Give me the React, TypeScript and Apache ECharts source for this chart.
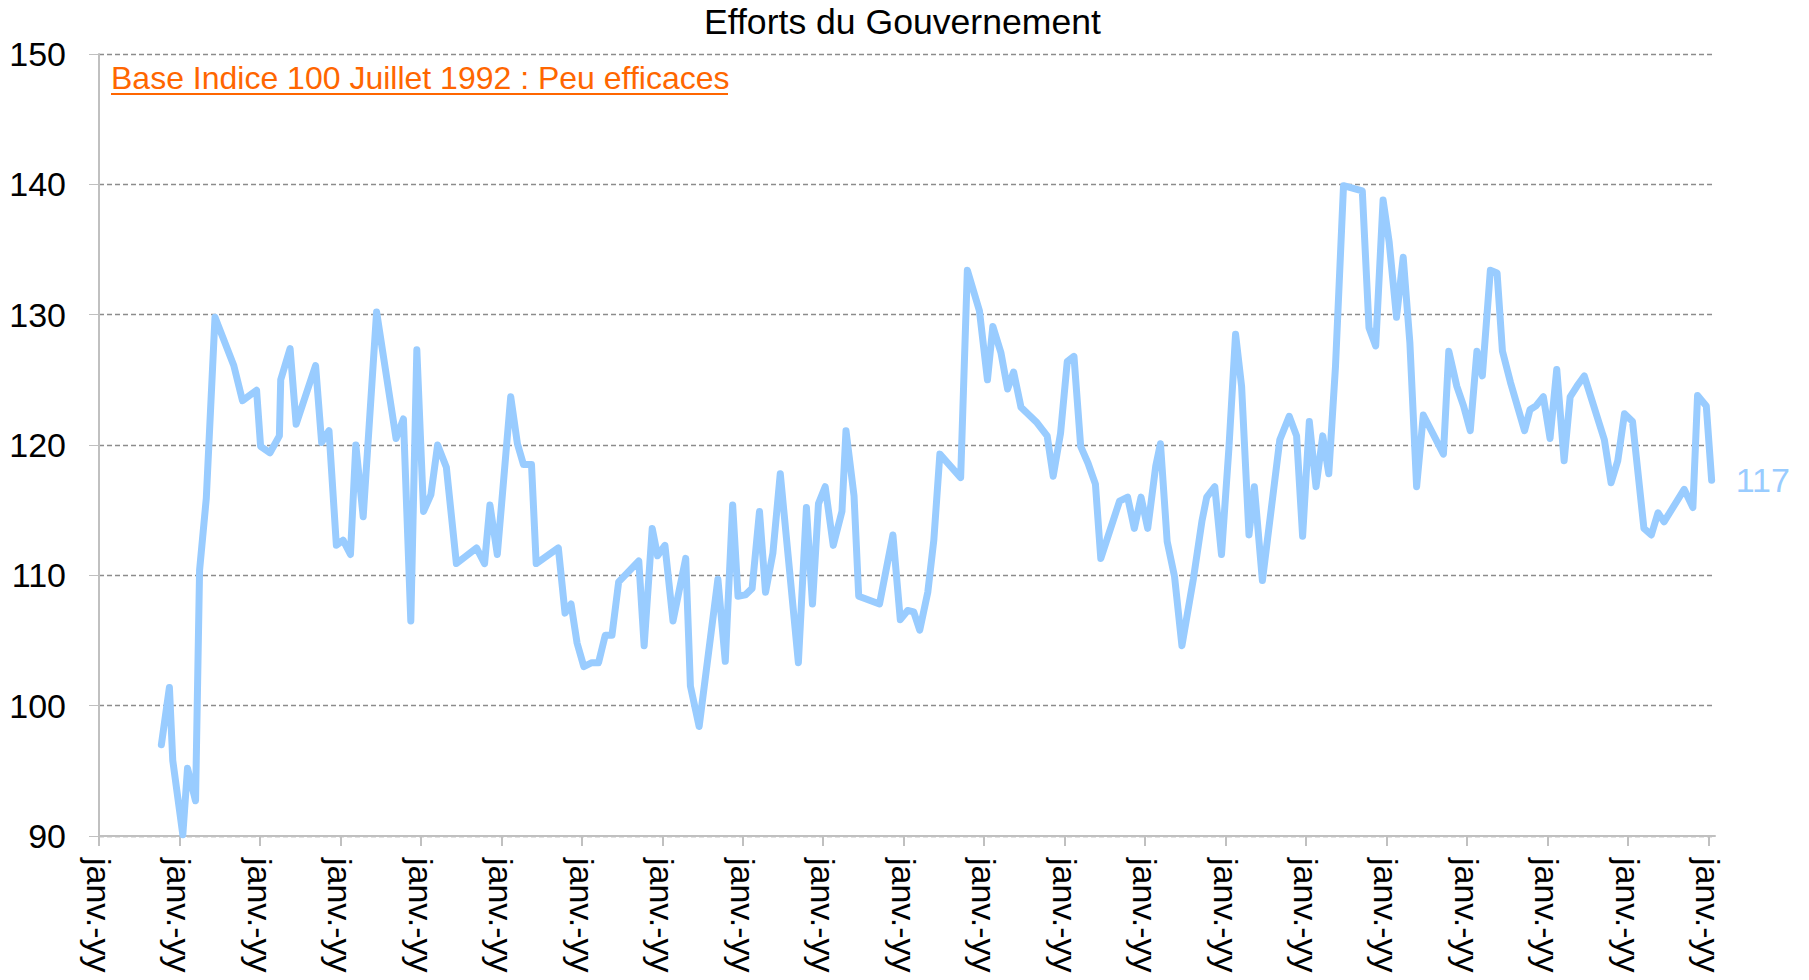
import React, { useEffect, useRef } from "react";
import * as echarts from "echarts";

const titleText = "Efforts du Gouvernement";
const noteText = "Base Indice 100 Juillet 1992 : Peu efficaces";
const xTickLabel = "janv.-yy";
const yTicks = [90, 100, 110, 120, 130, 140, 150];

// months since janv. 1992
const monthIdx = [
  9.3, 10.5, 11.0, 12.5, 13.2, 14.4, 15.0, 16.0, 17.3, 20.1,
  21.4, 23.5, 24.1, 25.5, 26.9, 27.1, 28.5, 29.4, 32.3, 33.2,
  34.3, 35.4, 36.4, 37.5, 38.3, 39.4, 41.4, 44.3, 45.4, 46.5,
  47.4, 48.4, 49.5, 50.5, 51.8, 53.3, 56.3, 57.5, 58.3, 59.4,
  61.4, 62.4, 63.3, 64.5, 65.2, 68.5, 69.5, 70.4, 71.3, 72.3,
  73.5, 74.5, 75.5, 76.5, 77.5, 80.5, 81.3, 82.5, 83.3, 84.4,
  85.6, 87.5, 88.2, 89.5, 92.3, 93.4, 94.5, 95.3, 96.4, 97.4,
  98.5, 99.4, 100.5, 101.6, 104.3, 105.5, 106.4, 107.3, 108.3, 109.5,
  110.8, 111.4, 112.6, 113.3, 116.4, 118.4, 119.5, 120.6, 121.5, 122.4,
  123.6, 124.5, 125.4, 128.5, 129.5, 131.3, 132.5, 133.3, 134.5, 135.5,
  136.4, 137.5, 139.9, 141.4, 142.3, 143.4, 144.4, 145.4, 146.4, 147.5,
  148.6, 149.4, 152.2, 153.4, 154.4, 155.4, 156.4, 157.6, 158.3, 159.3,
  160.4, 161.5, 163.2, 164.5, 165.2, 166.4, 167.4, 168.5, 169.5, 170.4,
  171.5, 172.3, 173.5, 176.1, 177.5, 178.6, 179.5, 180.5, 181.5, 182.5,
  183.4, 184.4, 185.6, 188.4, 189.4, 190.4, 191.5, 192.4, 193.5, 194.5,
  195.5, 196.5, 197.5, 200.5, 201.3, 202.5, 203.5, 204.5, 205.5, 206.3,
  207.5, 208.5, 209.3, 210.5, 212.6, 213.4, 214.3, 215.4, 216.4, 217.4,
  218.5, 219.4, 220.4, 221.5, 224.5, 225.5, 226.5, 227.5, 228.7, 230.4,
  231.5, 232.5, 233.4, 236.4, 237.7, 238.4, 239.7, 240.5,
];

const values = [
  97.0, 101.4, 95.8, 90.1, 95.2, 92.7, 110.4, 115.9, 129.8, 126.1,
  123.4, 124.2, 119.9, 119.4, 120.7, 125.0, 127.4, 121.6, 126.1, 120.2,
  121.1, 112.3, 112.7, 111.6, 120.0, 114.5, 130.2, 120.5, 122.0, 106.5,
  127.3, 114.9, 116.2, 120.0, 118.3, 110.9, 112.1, 110.9, 115.4, 111.6,
  123.7, 120.1, 118.5, 118.5, 110.9, 112.1, 107.1, 107.8, 104.8, 103.0,
  103.3, 103.3, 105.4, 105.4, 109.5, 111.1, 104.6, 113.6, 111.5, 112.3,
  106.5, 111.3, 101.5, 98.4, 109.7, 103.4, 115.4, 108.4, 108.5, 109.0,
  114.9, 108.7, 111.7, 117.8, 103.3, 115.2, 107.8, 115.5, 116.8, 112.3,
  114.9, 121.1, 116.1, 108.4, 107.8, 113.1, 106.6, 107.3, 107.2, 105.8,
  108.7, 112.7, 119.3, 117.5, 133.4, 130.3, 125.0, 129.1, 127.1, 124.3,
  125.6, 122.9, 121.7, 120.7, 117.6, 120.9, 126.4, 126.8, 119.9, 118.6,
  117.0, 111.3, 115.7, 116.0, 113.6, 116.0, 113.6, 118.4, 120.1, 112.6,
  109.9, 104.6, 109.7, 114.2, 116.0, 116.8, 111.6, 119.7, 128.5, 124.5,
  113.1, 116.8, 109.6, 120.4, 122.2, 120.7, 113.0, 121.8, 116.8, 120.7,
  117.8, 126.0, 139.9, 139.5, 129.0, 127.6, 138.8, 135.6, 129.8, 134.4,
  127.8, 116.8, 122.3, 119.3, 127.2, 124.5, 123.0, 121.1, 127.2, 125.3,
  133.4, 133.2, 127.2, 124.8, 121.1, 122.7, 123.0, 123.7, 120.5, 125.8,
  118.8, 123.7, 124.5, 125.3, 120.4, 117.1, 118.8, 122.4, 121.8, 113.6,
  113.1, 114.8, 114.1, 116.6, 115.2, 123.8, 123.0, 117.3,
];

const FONT = "'Liberation Sans', Arial, sans-serif";

export default function App() {
  const ref = useRef<HTMLDivElement>(null);

  useEffect(() => {
    if (!ref.current) return;
    const chart = echarts.init(ref.current, null, { renderer: "svg" });
    const data = monthIdx.map((m, i) => [m, values[i]]);
    chart.setOption({
      animation: false,
      backgroundColor: "#ffffff",
      title: {
        text: titleText,
        left: 699,
        top: -1,
        textStyle: { fontFamily: FONT, fontSize: 35.6, fontWeight: "normal", color: "#000" },
      },
      grid: { left: 99, right: 94, top: 54, bottom: 144, containLabel: false },
      xAxis: {
        type: "value",
        min: 0,
        max: 241,
        interval: 12,
        axisLine: { show: true, lineStyle: { color: "#c0c0c0", width: 2 } },
        axisTick: { show: true, length: 10, lineStyle: { color: "#c0c0c0", width: 2 } },
        splitLine: { show: false },
        axisLabel: {
          rotate: -90,
          margin: 22,
          fontFamily: FONT,
          fontSize: 34,
          color: "#000",
          showMinLabel: true,
          showMaxLabel: false,
          formatter: () => xTickLabel,
        },
      },
      yAxis: {
        type: "value",
        min: yTicks[0],
        max: yTicks[yTicks.length - 1],
        interval: 10,
        axisLine: { show: true, lineStyle: { color: "#c0c0c0", width: 2 } },
        axisTick: { show: true, length: 10, lineStyle: { color: "#c0c0c0", width: 1 } },
        splitLine: { show: true, lineStyle: { color: "#8c8c8c", type: [5, 3], width: 1.3 } },
        axisLabel: { margin: 33, fontFamily: FONT, fontSize: 34, color: "#000" },
      },
      graphic: [
        {
          type: "text",
          left: 111,
          top: 62,
          style: { text: noteText, fontFamily: FONT, fontSize: 32, fill: "#FF6600" },
        },
        {
          type: "line",
          shape: { x1: 111, y1: 94, x2: 728, y2: 94 },
          style: { stroke: "#FF6600", lineWidth: 2 },
        },
      ],
      series: [
        {
          type: "line",
          data,
          showSymbol: false,
          symbol: "none",
          lineStyle: { color: "#99CCFF", width: 7, join: "round", cap: "round" },
          itemStyle: { color: "#99CCFF" },
          endLabel: {
            show: true,
            distance: 24,
            fontFamily: FONT,
            fontSize: 34,
            color: "#99CCFF",
            formatter: (p: any) => String(Math.round(p.value[1])),
          },
        },
      ],
    });
    return () => chart.dispose();
  }, []);

  return (
    <div
      ref={ref}
      style={{ position: "fixed", left: 0, top: 0, width: 1809, height: 980, background: "#fff" }}
    />
  );
}
